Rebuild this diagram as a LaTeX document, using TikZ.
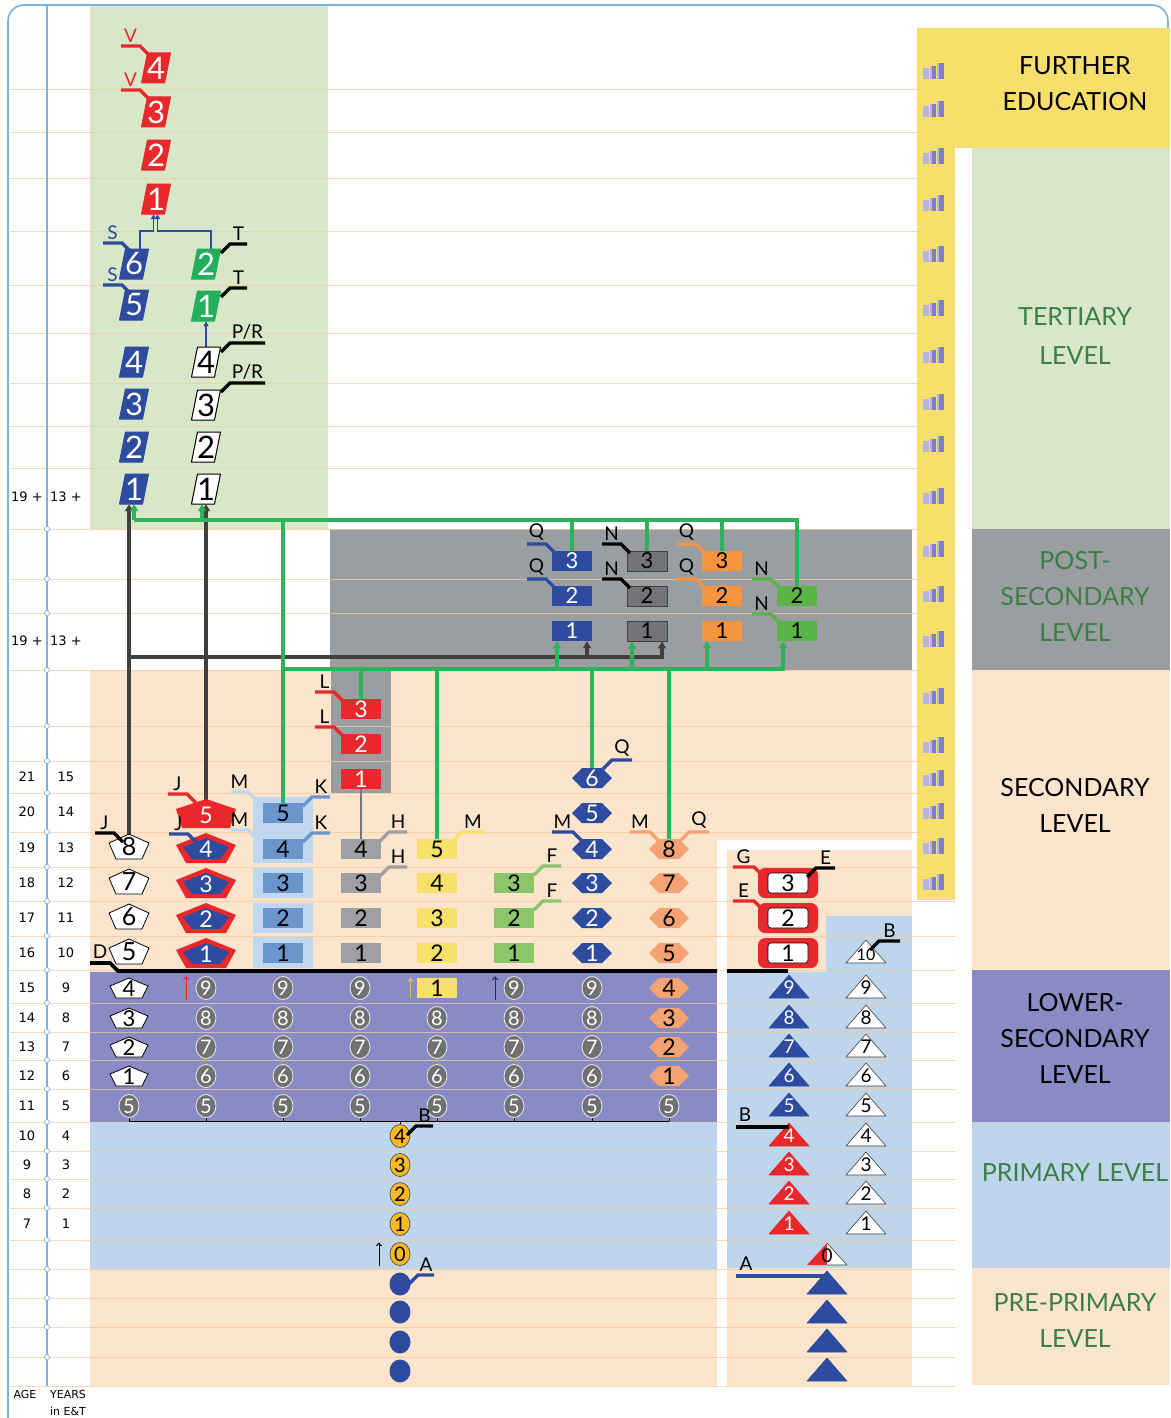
\documentclass[tikz,border=0pt]{standalone}
\usepackage{fontspec}
\setmainfont{Lato}
\newfontfamily\axisfont{DejaVu Sans}
\usetikzlibrary{arrows.meta,shapes.geometric,calc}
\pgfdeclarelayer{back}
\pgfdeclarelayer{conn}
\pgfsetlayers{back,conn,main}
\definecolor{frameblue}{HTML}{7DB2DF}
\definecolor{rowline}{HTML}{F7C9A0}
\definecolor{tertbg}{HTML}{D7E7C8}
\definecolor{postbg}{HTML}{9B9EA1}
\definecolor{secbg}{HTML}{FDE4CD}
\definecolor{lowbg}{HTML}{8A8BC4}
\definecolor{primbg}{HTML}{BED6EC}
\definecolor{furtherbg}{HTML}{F8DF6C}
\definecolor{lvlgreen}{HTML}{3B7F46}
\definecolor{dblue}{HTML}{2D4B9F}
\definecolor{ired}{HTML}{E8282B}
\definecolor{tgreen}{HTML}{22AE5B}
\definecolor{cgreen}{HTML}{2DB35C}
\definecolor{darkc}{HTML}{404040}
\definecolor{mblue}{HTML}{6A96CD}
\definecolor{lblue}{HTML}{C0D8EF}
\definecolor{sgray}{HTML}{9EA0A3}
\definecolor{yel}{HTML}{F8E06B}
\definecolor{yarrow}{HTML}{E2C24A}
\definecolor{lgreen}{HTML}{8CC66B}
\definecolor{ohex}{HTML}{F6A373}
\definecolor{opost}{HTML}{F6943F}
\definecolor{pgreen}{HTML}{5BB447}
\definecolor{pgray}{HTML}{737477}
\definecolor{cgray}{HTML}{6F7072}
\definecolor{ocirc}{HTML}{FBB824}
\definecolor{iconA}{HTML}{7E7FBE}
\definecolor{iconB}{HTML}{B4B4DD}
\definecolor{navy}{HTML}{2A2A55}

\tikzset{
  pics/par/.style 2 args={code={\path[fill=#1,draw=#2,line width=1pt,line join=round] (-14.5,15)--(-8.5,-15)--(14.5,-15)--(8.5,15)--cycle;}},
  pics/pentw/.style={code={\path[fill=white,draw=black,line width=0.8pt,line join=round] (0,-13)--(20,-4)--(13,12)--(-13,12)--(-20,-4)--cycle;}},
  pics/pents/.style={code={\path[fill=white,draw=black,line width=0.8pt,line join=round] (0,-10)--(19,-2)--(13,10)--(-13,10)--(-19,-2)--cycle;}},
  pics/pentrb/.style={code={\path[fill=ired] (0,-15)--(30,-3)--(20,15)--(-20,15)--(-30,-3)--cycle;
      \path[fill=dblue] (0,-10)--(23,-1)--(14,11)--(-14,11)--(-23,-1)--cycle;}},
  pics/pentr/.style={code={\path[fill=ired] (0,-14)--(30,-4)--(24,15)--(-24,15)--(-30,-4)--cycle;}},
  pics/hex/.style={code={\path[fill=#1] (-20,0)--(-10,-10)--(10,-10)--(20,0)--(10,10)--(-10,10)--cycle;}},
  pics/tri/.style 2 args={code={\path[fill=#1,draw=#2,line width=0.6pt,line join=round] (-20,10)--(0,-13)--(20,10)--cycle;}},
  dig/.style={inner sep=0pt,font=\fontsize{23}{23}\selectfont},
  bigd/.style={inner sep=0pt,font=\fontsize{31}{31}\selectfont,minimum width=29pt,minimum height=30pt},
  box/.style={dig,minimum width=40pt,minimum height=20pt},
  pbox/.style={inner sep=0pt,font=\fontsize{22}{22}\selectfont,minimum width=40pt,minimum height=20pt},
  pdig/.style={inner sep=0pt,font=\fontsize{25}{25}\selectfont,minimum width=40pt,minimum height=26pt},
  hdig/.style={inner sep=0pt,font=\fontsize{23}{23}\selectfont,minimum width=40pt,minimum height=20pt},
  gcirc/.style={ellipse,inner sep=0pt,minimum width=20pt,minimum height=23pt,fill=cgray,draw=white!85!gray,line width=0.8pt,text=white,font=\fontsize{20}{20}\selectfont},
  ocircle/.style={ellipse,inner sep=0pt,minimum width=20pt,minimum height=23pt,fill=ocirc,draw=darkc,line width=0.6pt,font=\fontsize{20}{20}\selectfont},
  tdig/.style={inner sep=0pt,font=\fontsize{19}{19}\selectfont,minimum width=40pt,minimum height=22pt},
  lbl/.style={inner sep=0pt,anchor=south,yshift=2pt,font=\fontsize{19}{19}\selectfont},
  ldr/.style={line width=3.3pt,line join=miter},
  link/.style={line width=3.2pt},
  tip/.style={-{Triangle[length=7pt,width=8pt]}},
  axl/.style={inner sep=0pt,font=\axisfont\fontsize{13}{13}\selectfont},
  small/.style={inner sep=0pt,font=\axisfont\fontsize{11}{11}\selectfont},
  lvl/.style={inner sep=0pt,align=center,font=\fontsize{25}{36}\selectfont},
}
% leader: colour, text colour, node, offset, label, horizontal length
\newcommand\ldL[6]{\draw[ldr,#1] ([shift={(#4)}]#3) -- ++(-9,-9) -- ++(-#6,0) node[pos=0.5,lbl,text=#2]{#5};}
\newcommand\ldR[6]{\draw[ldr,#1] ([shift={(#4)}]#3) -- ++(9,-9) -- ++(#6,0) node[pos=0.5,lbl,text=#2]{#5};}

\begin{document}
\begin{tikzpicture}[x=1pt,y=-1pt]
\useasboundingbox (0,0) rectangle (1170,1418);
\begin{pgfonlayer}{back}
% level regions
\fill[tertbg] (90,6) rectangle (328,529);
\fill[secbg] (90,670) rectangle (912,840);
\fill[secbg] (90,840) rectangle (717,972);
\fill[secbg] (727,850) rectangle (912,972);
\fill[postbg] (330,529) rectangle (912,670);
\fill[postbg] (331,670) rectangle (391,793);
\fill[primbg] (826,916) rectangle (912,972);
\fill[lowbg] (90,972) rectangle (717,1122);
\fill[primbg] (727,972) rectangle (912,1268);
\fill[primbg] (90,1122) rectangle (717,1269);
\fill[secbg] (90,1269) rectangle (717,1386);
\fill[secbg] (727,1268) rectangle (912,1386);
% row lines
\foreach \yy in {90,133,178,231,285,333,383,426,468,529,579,613,670,726,761,793,832,867,901,936,970,1003,1032,1060,1089,1122,1151,1179,1208,1240,1269,1298,1327,1357,1386}
  \draw[rowline,line width=1pt,opacity=.75] (10,\yy) -- (956,\yy);
% col3 frames
\fill[lblue] (253,797) rectangle (313,863);
\fill[lblue] (253,868) rectangle (313,898);
\fill[lblue] (253,903) rectangle (313,933);
\fill[lblue] (253,937) rectangle (313,968);
% frame and axis
\draw[frameblue,line width=1.6pt,rounded corners=16pt] (8,1418) -- (8,5) -- (1168,5) -- (1168,60);
\draw[frameblue,line width=1.6pt] (47,5) -- (47,1386);
\foreach \yy in {529,579,613,670,726,761,793,832,867,901,936,970,1003,1032,1060,1089,1122,1151,1179,1208,1240,1269,1298,1327,1357}
  \draw[frameblue,fill=white,line width=0.7pt] (47,\yy) circle (2.6pt);
% right panels
\fill[furtherbg] (917,28) rectangle (1170,148);
\fill[furtherbg] (917,148) rectangle (955,900);
\fill[tertbg] (972,148) rectangle (1170,529);
\fill[postbg] (972,529) rectangle (1170,670);
\fill[secbg] (972,670) rectangle (1170,970);
\fill[lowbg] (972,970) rectangle (1170,1122);
\fill[primbg] (972,1122) rectangle (1170,1268);
\fill[secbg] (972,1268) rectangle (1170,1385);
\foreach \yy in {71,109,156,203,254,308,355,402,444,496,549,594,639,696,745,778,811,846,882}{
  \fill[iconB] (923,\yy+8) rectangle (929,\yy-3);
  \fill[iconA] (930,\yy+8) rectangle (936,\yy-5);
  \fill[iconA] (937,\yy+8) rectangle (944,\yy-8);
  \fill[iconB] (930,\yy+8) rectangle (932,\yy-5);
  \fill[iconB] (937,\yy+8) rectangle (939,\yy-8);}
\end{pgfonlayer}

% ---------------- tertiary
\foreach \n/\yy in {4/68,3/112,2/155,1/199}{
  \pic at (156,\yy) {par={ired}{ired}};
  \node[bigd,text=white] (r\n) at (156,\yy) {\n};}
\foreach \n/\yy in {6/264,5/305,4/362,3/404,2/447,1/489}{
  \pic at (134,\yy) {par={dblue}{dblue}};
  \node[bigd,text=white] (b\n) at (134,\yy) {\n};}
\foreach \n/\yy in {4/362,3/405,2/447,1/489}{
  \pic at (206,\yy) {par={white}{black}};
  \node[bigd] (w\n) at (206,\yy) {\n};}
\foreach \n/\yy in {2/264,1/306}{
  \pic at (206,\yy) {par={tgreen}{tgreen}};
  \node[bigd,text=white] (g\n) at (206,\yy) {\n};}

% ---------------- post-secondary
\foreach \n/\yy in {3/561,2/596,1/631}{
  \node[pbox,fill=dblue,text=white] (qb\n) at (572,\yy) {\n};
  \node[pbox,fill=pgray,draw=darkc,line width=0.8pt] (ng\n) at (647,\yy) {\n};
  \node[pbox,fill=opost] (op\n) at (722,\yy) {\n};}
\foreach \n/\yy in {2/596,1/631}{\node[pbox,fill=pgreen] (gp\n) at (797,\yy) {\n};}

% ---------------- secondary
\foreach \n/\yy in {8/847,7/882,6/917,5/952}{
  \pic at (129,\yy) {pentw};
  \node[pdig] (pw\n) at (129,\yy) {\n};}
\pic at (206,813) {pentr};
\node[dig,text=white,minimum width=60pt,minimum height=29pt] (pr5) at (206,815) {5};
\foreach \n/\yy in {4/848,3/883,2/918,1/953}{
  \pic at (206,\yy) {pentrb};
  \node[dig,text=white,minimum width=60pt,minimum height=30pt] (pb\n) at (206,\yy+1) {\n};}
\foreach \n/\yy in {5/813,4/849,3/883,2/918,1/953}{\node[box,fill=mblue] (c3b\n) at (283,\yy) {\n};}
\foreach \n/\yy in {3/709,2/744,1/779}{\node[box,fill=ired,text=white] (l\n) at (361,\yy) {\n};}
\foreach \n/\yy in {4/849,3/883,2/918,1/953}{\node[box,fill=sgray] (s\n) at (361,\yy) {\n};}
\foreach \n/\yy in {5/849,4/883,3/918,2/953,1/988}{\node[box,fill=yel] (y\n) at (437,\yy) {\n};}
\foreach \n/\yy in {3/883,2/918,1/953}{\node[box,fill=lgreen] (f\n) at (514,\yy) {\n};}
\foreach \n/\yy in {6/778,5/813,4/849,3/883,2/918,1/953}{
  \pic at (592,\yy) {hex=dblue};
  \node[hdig,text=white] (h\n) at (592,\yy) {\n};}
\foreach \n/\yy in {8/849,7/883,6/918,5/953,4/988,3/1018,2/1047,1/1076}{
  \pic at (669,\yy) {hex=ohex};
  \node[hdig] (o\n) at (669,\yy) {\n};}

% ---------------- lower secondary
\foreach \n/\yy in {4/988,3/1018,2/1047,1/1076}{
  \pic at (129,\yy) {pents};
  \node[inner sep=0pt,font=\fontsize{22}{22}\selectfont,minimum width=38pt,minimum height=20pt] (pl\n) at (129,\yy+1) {\n};}
\foreach \i/\x in {2/206,3/283,4/360,6/514,7/592}{\node[gcirc] (c\i9) at (\x,988) {9};}
\foreach \i/\x in {2/206,3/283,4/360,5/437,6/514,7/592}{
  \foreach \n/\yy in {8/1018,7/1047,6/1076}{\node[gcirc] (c\i\n) at (\x,\yy) {\n};}}
\foreach \i/\x in {1/129,2/206,3/283,4/360,5/437,6/514,7/592,8/669}{\node[gcirc] (c\i5) at (\x,1106) {5};}

% ---------------- primary, pre-primary
\foreach \n/\yy in {4/1136,3/1165,2/1194,1/1224,0/1254}{\node[ocircle] (oc\n) at (400,\yy) {\n};}
\foreach \n/\yy in {1/1284,2/1312,3/1342,4/1371}{\node[ellipse,fill=dblue,minimum width=21pt,minimum height=23pt,inner sep=0pt] (bd\n) at (400,\yy) {};}

% ---------------- right column
\foreach \n/\yy in {3/883,2/918,1/953}{
  \node[fill=ired,rounded corners=7pt,minimum width=60pt,minimum height=30pt,inner sep=0pt] (rb\n) at (788,\yy) {};
  \node[box,fill=white,draw=black,line width=0.6pt,rounded corners=3pt] (e\n) at (788,\yy) {\n};}
\foreach \n/\yy in {9/988,8/1018,7/1047,6/1076,5/1106}{
  \pic at (789,\yy) {tri={dblue}{dblue}};
  \node[tdig,text=white] (bt\n) at (789,\yy) {\n};}
\foreach \n/\yy in {4/1136,3/1165,2/1194,1/1224}{
  \pic at (789,\yy) {tri={ired}{ired}};
  \node[tdig,text=white] (rt\n) at (789,\yy) {\n};}
\foreach \n/\yy in {9/988,8/1018,7/1047,6/1076,5/1106,4/1136,3/1165,2/1194,1/1224}{
  \pic at (866,\yy) {tri={white}{darkc}};
  \node[tdig] (wt\n) at (866,\yy) {\n};}
\pic at (866,953) {tri={white}{darkc}};
\node[tdig,font=\fontsize{16}{16}\selectfont] (wt10) at (866,955) {10};
\path[fill=ired] (807,1265) -- (827,1243) -- (827,1265) -- cycle;
\path[fill=white,draw=darkc,line width=0.6pt] (827,1243) -- (847,1265) -- (827,1265);
\node[tdig] (zt0) at (827,1256) {0};
\foreach \n/\yy in {1/1284,2/1313,3/1342,4/1371}{
  \pic at (827,\yy) {tri={dblue}{dblue}};
  \node[inner sep=0pt,minimum width=40pt,minimum height=22pt] (pt\n) at (827,\yy) {};}

% ---------------- connectors
\begin{pgfonlayer}{conn}
\draw[dblue,line width=1.8pt,-{Triangle[length=5pt,width=5pt]}] ([xshift=6pt]b6.north) -- ++(0,-18) -| ([xshift=-2.5pt]r1.south);
\draw[dblue,line width=1.8pt,-{Triangle[length=5pt,width=5pt]}] ([xshift=5pt]g2.north) -- ++(0,-18) -| ([xshift=1.5pt]r1.south);
\draw[dblue,line width=1.8pt,-{Triangle[length=5pt,width=5pt]}] (w4.north) -- (g1.south);
% dark routes
\draw[link,darkc,tip] (pw8.north) -- (pw8.north |- b1.south);
\draw[link,darkc,tip] (pr5.north) -- (pr5.north |- w1.south);
\coordinate (dk) at (pw8.north |- 0,657);
\draw[link,darkc,tip] (dk) -| ([xshift=15pt]ng1.south);
\draw[link,darkc,tip] ([xshift=15pt]qb1.south |- dk) -- ([xshift=15pt]qb1.south);
% green routes, upper
\coordinate (gt) at (b1.south |- 0,520);
\draw[link,cgreen,tip] (gt) -- (b1.south);
\draw[link,cgreen,tip] ([xshift=-4pt]w1.south |- gt) -- ([xshift=-4pt]w1.south);
\draw[link,cgreen] (gt) -| (gp2.north);
\foreach \n in {qb3,ng3,op3} \draw[link,cgreen] (\n.north |- gt) -- (\n.north);
\draw[link,cgreen] (c3b5.north |- gt) -- (c3b5.north);
% green routes, lower
\coordinate (gl) at (c3b5.north |- 0,669);
\draw[link,cgreen,tip] (gl) -| ([xshift=-14pt]gp1.south);
\foreach \n in {qb1,ng1,op1} \draw[link,cgreen,tip] ([xshift=-15pt]\n.south |- gl) -- ([xshift=-15pt]\n.south);
\foreach \n in {l3,y5,h6,o8} \draw[link,cgreen] (\n.north |- gl) -- (\n.north);
% thin links
\draw[sgray!75!black,line width=1.2pt] (l1.south) -- (s4.north);
\draw[line width=0.9pt] (c15.south |- 0,1121) -- (c85.south |- 0,1121);
\foreach \i in {1,...,8} \draw[line width=0.9pt] (c\i5.south) -- (c\i5.south |- 0,1121);
\draw[line width=0.9pt] (oc4.north |- 0,1121) -- (oc4.north);
\end{pgfonlayer}

% small arrows
\draw[ired,line width=1pt,-{Straight Barb[length=3pt,width=5pt]}] ([xshift=-20pt]c29.south) -- ([xshift=-20pt]c29.north);
\draw[yarrow,line width=1pt,-{Straight Barb[length=3pt,width=5pt]}] ([xshift=-6pt]y1.south west) -- ([xshift=-6pt]y1.north west);
\draw[navy,line width=1pt,-{Straight Barb[length=3pt,width=5pt]}] ([xshift=-19pt]c69.south) -- ([xshift=-19pt]c69.north);
\draw[black,line width=1pt,-{Straight Barb[length=3pt,width=5pt]}] ([xshift=-21pt]oc0.south) -- ([xshift=-21pt]oc0.north);

% boundary lines
\draw[line width=3.8pt] (90,963) -- (110,963) -- (118,971) -- (717,971);
\node[lbl] (lD) at (100,961) {D};
\draw[line width=3.8pt] (727,971) -- (788,971);
\draw[line width=3.3pt] (736,1127) -- (rt4.north |- 0,1127);
\node[lbl] (lB2) at (745,1124) {B};
\draw[dblue,line width=3.3pt] (736,1276) -- (pt1.north |- 0,1276);
\node[lbl] (lA2) at (746,1273) {A};

% ---------------- leaders
\ldL{ired}{ired}{r4.center}{-7,-13}{V}{19}
\ldL{ired}{ired}{r3.center}{-7,-13}{V}{19}
\ldL{dblue}{dblue}{b6.center}{-3,-12}{S}{19}
\ldL{dblue}{dblue}{b5.center}{-3,-11}{S}{19}
\ldR{black}{black}{g2.center}{15,-11}{T}{17}
\ldR{black}{black}{g1.center}{15,-9}{T}{17}
\ldR{black}{black}{w4.center}{15,-10}{P/R}{35}
\ldR{black}{black}{w3.center}{15,-13}{P/R}{35}
\ldL{dblue}{black}{qb3.center}{-17,-8}{Q}{19}
\ldL{dblue}{black}{qb2.center}{-17,-8}{Q}{19}
\ldL{black}{black}{ng3.center}{-17,-8}{N}{19}
\ldL{black}{black}{ng2.center}{-17,-8}{N}{19}
\ldL{opost}{black}{op3.center}{-17,-8}{Q}{19}
\ldL{opost}{black}{op2.center}{-17,-8}{Q}{19}
\ldL{pgreen}{black}{gp2.center}{-17,-8}{N}{19}
\ldL{pgreen}{black}{gp1.center}{-17,-8}{N}{19}
\ldL{ired}{black}{l3.center}{-18,-8}{L}{19}
\ldL{ired}{black}{l2.center}{-18,-8}{L}{19}
\ldL{black}{black}{pw8.center}{-6,-5}{J}{19}
\ldL{ired}{black}{pr5.center}{-10,-12}{J}{19}
\ldL{dblue}{black}{pb4.center}{-9,-6}{J}{19}
\ldL{lblue}{black}{c3b5.center}{-26,-12}{M}{17}
\ldR{mblue}{black}{c3b5.center}{20,-7}{K}{18}
\ldL{lblue}{black}{c3b4.center}{-26,-10}{M}{17}
\ldR{mblue}{black}{c3b4.center}{20,-7}{K}{18}
\ldR{sgray}{black}{s4.center}{19,-8}{H}{18}
\ldR{sgray}{black}{s3.center}{19,-7}{H}{18}
\ldR{yel}{black}{y5.center}{16,-8}{M}{22}
\ldR{lgreen}{black}{f3.center}{20,-8}{F}{18}
\ldR{lgreen}{black}{f2.center}{20,-8}{F}{18}
\ldR{dblue}{black}{h6.center}{11,-9}{Q}{20}
\ldL{dblue}{black}{h4.center}{-10,-8}{M}{21}
\ldL{ohex}{black}{o8.center}{-10,-8}{M}{20}
\ldR{ohex}{black}{o8.center}{11,-8}{Q}{20}
\ldL{ired}{black}{rb3.center}{-25,-7}{G}{21}
\ldR{black}{black}{rb3.center}{19,-6}{E}{19}
\ldL{ired}{black}{rb2.center}{-25,-8}{E}{21}
\ldR{black}{black}{wt10.center}{4,-5}{B}{21}
\ldR{black}{black}{oc4.center}{7,-1}{B}{17}
\ldR{dblue}{black}{bd1.center}{9,0}{A}{16}

% ---------------- axis labels
\foreach \yy/\a/\b [count=\k] in {497/19 +/13 +,641/19 +/13 +,777/21/15,812/20/14,848/19/13,883/18/12,918/17/11,953/16/10,988/15/9,1018/14/8,1047/13/7,1076/12/6,1106/11/5,1136/10/4,1165/9/3,1194/8/2,1224/7/1}{
  \node[axl] (ag\k) at (27,\yy) {\a};
  \node[axl] (yr\k) at (66,\yy) {\b};}
\node[small] (agel) at (25,1394) {AGE};
\node[small] (yrsl) at (68,1394) {YEARS};
\node[small] (inet) at (68,1411) {in E\&T};

% ---------------- level names
\node[lvl] (tFE) at (1075,84) {FURTHER\\EDUCATION};
\node[lvl,text=lvlgreen,font=\fontsize{25}{39}\selectfont] (tTL) at (1075,336) {TERTIARY\\LEVEL};
\node[lvl,text=lvlgreen] (tPS) at (1075,596) {POST-\\SECONDARY\\LEVEL};
\node[lvl] (tSL) at (1075,805) {SECONDARY\\LEVEL};
\node[lvl] (tLS) at (1075,1038) {LOWER-\\SECONDARY\\LEVEL};
\node[lvl,text=lvlgreen] (tPL) at (1075,1173) {PRIMARY LEVEL};
\node[lvl,text=lvlgreen] (tPP) at (1075,1321) {PRE-PRIMARY\\LEVEL};
\end{tikzpicture}
\end{document}
